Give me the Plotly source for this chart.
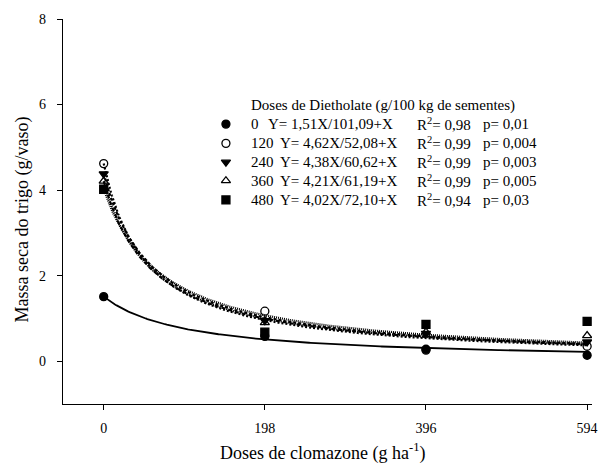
import numpy as np
import plotly.graph_objects as go

# Data
doses_clomazone = [0, 198, 396, 594]
tick_vals = [0, 198, 396, 594]
tick_text = ["0", "198", "396", "594"]
y_ticks = [0, 2, 4, 6, 8]

dietholate_doses = ["0", "120", "240", "360", "480"]
obs_0 = [1.51, 0.58, 0.28, 0.14]
obs_120 = [4.62, 1.17, 0.26, 0.35]
obs_240 = [4.38, 0.95, 0.65, 0.45]
obs_360 = [4.21, 0.90, 0.68, 0.60]
obs_480 = [4.02, 0.68, 0.86, 0.93]
observed = [obs_0, obs_120, obs_240, obs_360, obs_480]

param_a = [1.51, 4.62, 4.38, 4.21, 4.02]
param_b = [101.09, 52.08, 60.62, 61.19, 72.10]
r2_text = ["0,98", "0,99", "0,99", "0,99", "0,94"]
p_text = ["0,01", "0,004", "0,003", "0,005", "0,03"]
eq_text = ["Y= 1,51X/101,09+X", "Y= 4,62X/52,08+X", "Y= 4,38X/60,62+X",
           "Y= 4,21X/61,19+X", "Y= 4,02X/72,10+X"]

symbols = ["circle", "circle-open", "triangle-down", "triangle-up-open", "square"]
dashes = ["solid", "2px,2px", "3px,2px", "4px,1px,1px,1px", "1px,1px"]

FONT = "Liberation Serif"
LEG = 15
fig = go.Figure()

xs = np.linspace(0, max(doses_clomazone), 300)
for i in range(5):
    a, b = param_a[i], param_b[i]
    ys = a * b / (b + xs)
    fig.add_trace(go.Scatter(x=xs, y=ys, mode="lines",
                             line=dict(color="black", width=2.2 if i else 1.8, dash=dashes[i]),
                             showlegend=False, hoverinfo="skip"))

for i in range(5):
    fig.add_trace(go.Scatter(x=doses_clomazone, y=observed[i], mode="markers",
                             marker=dict(symbol=symbols[i], size=8, color="black",
                                         line=dict(color="black", width=1.3)),
                             showlegend=False))

# Legend markers on a hidden overlay axis (0-1 box)
leg_rows = [0.727, 0.677, 0.628, 0.580, 0.530]
for i in range(5):
    fig.add_trace(go.Scatter(x=[0.308], y=[leg_rows[i]], mode="markers", xaxis="x2", yaxis="y2",
                             marker=dict(symbol=symbols[i], size=8, color="black",
                                         line=dict(color="black", width=1.3)),
                             showlegend=False, hoverinfo="skip"))

annotations = [dict(xref="x2", yref="y2", x=0.352, y=0.776, xanchor="left", yanchor="middle",
                    text="Doses de Dietholate (g/100 kg de sementes)", showarrow=False,
                    font=dict(family=FONT, size=LEG, color="black"))]
for i in range(5):
    y = leg_rows[i]
    eq_x = 0.383 if i == 0 else 0.406
    annotations += [
        dict(xref="x2", yref="y2", x=0.352, y=y, xanchor="left", yanchor="middle",
             text=dietholate_doses[i], showarrow=False, font=dict(family=FONT, size=LEG, color="black")),
        dict(xref="x2", yref="y2", x=eq_x, y=y, xanchor="left", yanchor="middle",
             text=eq_text[i], showarrow=False, font=dict(family=FONT, size=LEG, color="black")),
        dict(xref="x2", yref="y2", x=0.665, y=y, xanchor="left", yanchor="middle",
             text="R<sup>2</sup>= " + r2_text[i], showarrow=False, font=dict(family=FONT, size=LEG, color="black")),
        dict(xref="x2", yref="y2", x=0.791, y=y, xanchor="left", yanchor="middle",
             text="p= " + p_text[i], showarrow=False, font=dict(family=FONT, size=LEG, color="black")),
    ]

annotations += [
    dict(xref="paper", yref="paper", x=0.49, y=-0.125, xanchor="center", yanchor="middle",
         text="Doses de clomazone (g ha<sup>-1</sup>)", showarrow=False,
         font=dict(family=FONT, size=18, color="black")),
    dict(xref="paper", yref="paper", x=-0.077, y=0.48, xanchor="center", yanchor="middle",
         text="Massa seca do trigo (g/vaso)", showarrow=False, textangle=-90,
         font=dict(family=FONT, size=18, color="black")),
]

fig.update_layout(
    width=605, height=468,
    margin=dict(l=63, r=7, t=19, b=64),
    paper_bgcolor="white", plot_bgcolor="white",
    font=dict(family=FONT, size=14, color="black"),
    xaxis=dict(range=[-50, 600], tickvals=tick_vals, ticktext=tick_text,
               showline=True, linecolor="black", linewidth=1.3, ticks="outside",
               ticklen=5, tickcolor="black", showgrid=False, zeroline=False,
               ticklabelstandoff=6,
               tickfont=dict(family=FONT, size=14, color="black")),
    yaxis=dict(range=[-1, 8], tickvals=y_ticks, showline=True, linecolor="black",
               linewidth=1.3, ticks="outside", ticklen=5, tickcolor="black",
               showgrid=False, zeroline=False, ticklabelstandoff=8,
               tickfont=dict(family=FONT, size=14, color="black")),
    xaxis2=dict(range=[0, 1], overlaying="x", visible=False),
    yaxis2=dict(range=[0, 1], overlaying="y", visible=False),
    annotations=annotations,
)

fig.write_html("out.html", config={"displayModeBar": False},
               post_script="document.body.style.margin='0';")
